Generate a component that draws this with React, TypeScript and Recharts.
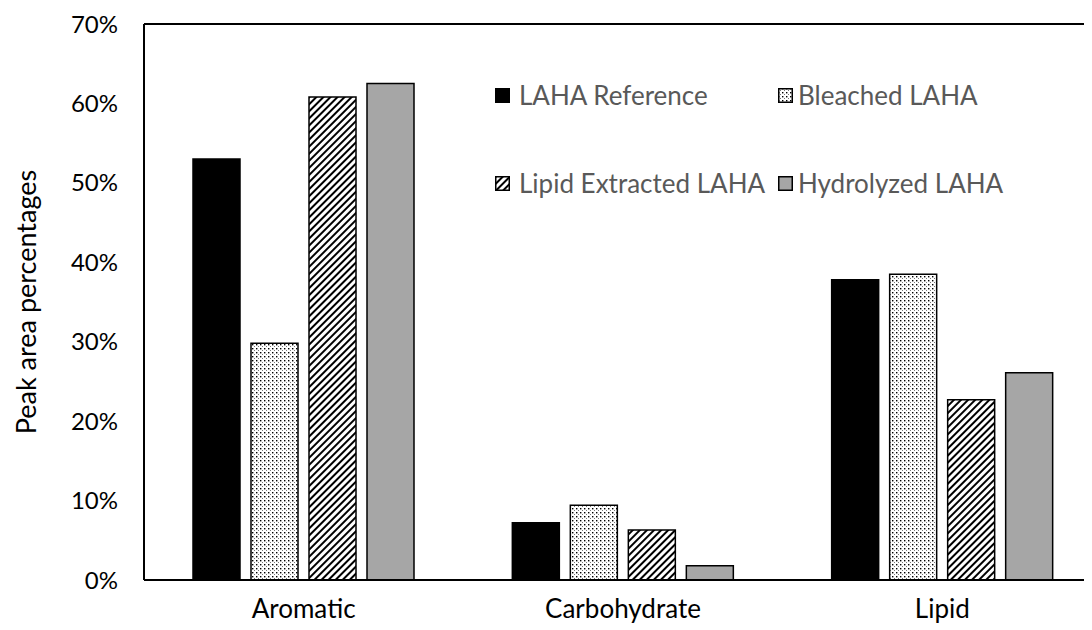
import React from 'react';
import { BarChart, Bar, XAxis, YAxis, ReferenceLine } from 'recharts';

const categories = ['Aromatic', 'Carbohydrate', 'Lipid'];
const seriesNames = ['LAHA Reference', 'Bleached LAHA', 'Lipid Extracted LAHA', 'Hydrolyzed LAHA'];
const lahaReference = [0.53, 0.072, 0.378];
const bleachedLaha = [0.298, 0.094, 0.385];
const lipidExtractedLaha = [0.608, 0.063, 0.227];
const hydrolyzedLaha = [0.625, 0.018, 0.261];
const yTicks = [0, 0.1, 0.2, 0.3, 0.4, 0.5, 0.6, 0.7];

const data = categories.map((c, i) => ({
  name: c,
  s0: lahaReference[i],
  s1: bleachedLaha[i],
  s2: lipidExtractedLaha[i],
  s3: hydrolyzedLaha[i],
}));

const fills = ['#000000', 'url(#dots)', 'url(#hatch)', '#a6a6a6'];
const FONT = 'Lato, "Open Sans", sans-serif';

const Patterns = () => (
  <defs>
    <pattern id="dots" width="4" height="4" patternUnits="userSpaceOnUse">
      <rect width="4" height="4" fill="#ffffff" />
      <rect x="0" y="0" width="1.4" height="1.4" fill="#000000" />
      <rect x="2" y="2" width="1" height="1" fill="#777777" />
    </pattern>
    <pattern id="hatch" width="5" height="5" patternUnits="userSpaceOnUse" patternTransform="rotate(45)">
      <rect width="5" height="5" fill="#ffffff" />
      <rect x="0" y="0" width="2" height="5" fill="#000000" />
    </pattern>
  </defs>
);

const LegendBox = () => (
  <div style={{ position: 'absolute', top: 74, left: 487, display: 'grid', gridTemplateColumns: '283px 280px', rowGap: '62px', fontFamily: FONT, fontSize: 26, color: '#595959' }}>
    {seriesNames.map((n, i) => (
      <div key={n} style={{ display: 'flex', alignItems: 'center', height: 26, whiteSpace: 'nowrap' }}>
        <svg width={15} height={15} style={{ marginRight: i % 2 === 0 ? 9 : 5, flexShrink: 0 }}>
          <rect x={0.75} y={0.75} width={13.5} height={13.5} fill={fills[i]} stroke="#000" strokeWidth={1.5} />
        </svg>
        <span>{n}</span>
      </div>
    ))}
  </div>
);

export default function App() {
  return (
    <div style={{ position: 'relative', width: 1084, height: 622, overflow: 'hidden', background: '#fff' }}>
      <BarChart
        width={1100}
        height={622}
        data={data}
        margin={{ top: 16, right: 6, bottom: 20, left: 0 }}
        barGap={11}
        barCategoryGap={49}
      >
        <Patterns />
        <XAxis
          dataKey="name"
          height={30}
          axisLine={{ stroke: '#000', strokeWidth: 2 }}
          tickLine={false}
          tick={{ fill: '#000', fontSize: 26, fontFamily: FONT }}
          tickMargin={14}
        />
        <YAxis
          width={136}
          domain={[0, 0.7]}
          ticks={yTicks}
          tickFormatter={(v: number) => `${Math.round(v * 100)}%`}
          axisLine={{ stroke: '#000', strokeWidth: 2 }}
          tickLine={false}
          tick={{ fill: '#000', fontSize: 24, fontFamily: FONT }}
          tickMargin={20}
          label={{ value: 'Peak area percentages', angle: -90, position: 'insideLeft', offset: 18, style: { fontSize: 27, fontFamily: FONT, fill: '#000', textAnchor: 'middle' } }}
        />
        <ReferenceLine y={0.7} stroke="#000" strokeWidth={2} />
        {['s0', 's1', 's2', 's3'].map((k, i) => (
          <Bar key={k} dataKey={k} name={seriesNames[i]} fill={fills[i]} stroke="#000" strokeWidth={1.5} isAnimationActive={false} />
        ))}
      </BarChart>
      <LegendBox />
    </div>
  );
}
